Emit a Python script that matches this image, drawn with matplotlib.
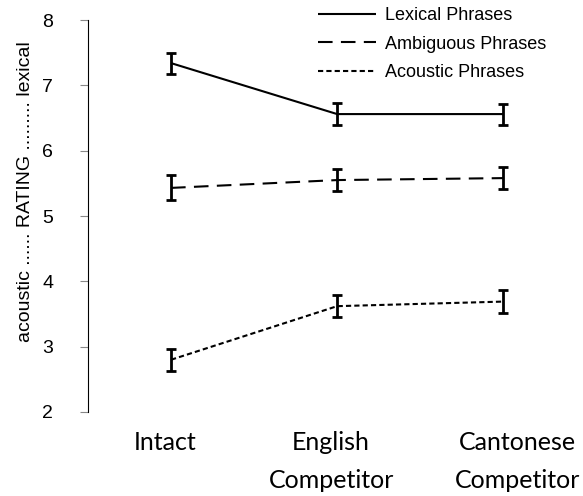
import numpy as np
import matplotlib
matplotlib.use('Agg')
from matplotlib import pyplot as plt
from matplotlib import transforms

conditions = ['Intact', 'English\nCompetitor', 'Cantonese\nCompetitor']
series_names = ['Lexical Phrases', 'Ambiguous Phrases', 'Acoustic Phrases']
lexical = [7.34, 6.56, 6.56]
ambiguous = [5.43, 5.55, 5.58]
acoustic = [2.80, 3.62, 3.69]
lexical_err = [0.16, 0.17, 0.16]
ambiguous_err = [0.19, 0.17, 0.17]
acoustic_err = [0.17, 0.17, 0.17]

plt.rcParams['font.family'] = ['Liberation Sans', 'DejaVu Sans']

fig = plt.figure(figsize=(5.83, 4.96), dpi=100)
ax = fig.add_axes([88 / 583, 84 / 496, 495 / 583, 392 / 496])

x = np.arange(len(conditions))
styles = [(0, ()), (0, (7, 4)), (0, (2.5, 1.5))]
for vals, err, name, ls in zip([lexical, ambiguous, acoustic],
                               [lexical_err, ambiguous_err, acoustic_err],
                               series_names, styles):
    ax.errorbar(x, vals, yerr=err, color='black', linestyle=ls, linewidth=1.5,
                elinewidth=2, capsize=3.6, capthick=2, label=name)

ax.set_xlim(-0.5, 2.48)
ax.set_ylim(2, 8)
ax.set_yticks(range(2, 9))
ax.tick_params(axis='y', labelsize=14, length=6, color='#888888', pad=19)
ax.set_ylabel('acoustic ...... RATING ......... lexical', fontsize=14)
ax.yaxis.set_label_coords((34 - 88) / 495, (412 - 192) / 392)

ax.set_xticks(x)
ax.set_xticklabels(conditions, family=['Lato', 'DejaVu Sans'], fontsize=18,
                   linespacing=1.75)
ax.tick_params(axis='x', length=0, pad=14)
# labels sit a little off their points in the original
shifts = [-6, -6, 14]
for lbl, dx in zip(ax.get_xticklabels(), shifts):
    lbl.set_transform(lbl.get_transform() + transforms.ScaledTranslation(dx / 100, 0, fig.dpi_scale_trans))

for side in ['top', 'right', 'bottom']:
    ax.spines[side].set_visible(False)

handles, labels = ax.get_legend_handles_labels()
handles = [h[0] for h in handles]
leg = ax.legend(handles, labels, loc='upper left', bbox_to_anchor=(318 / 583, 1 - 7 / 496),
                bbox_transform=fig.transFigure, frameon=False, fontsize=13,
                handlelength=3.2, handletextpad=0.5, labelspacing=0.64, borderpad=0,
                borderaxespad=0)

fig.savefig('out.png', dpi=100)
